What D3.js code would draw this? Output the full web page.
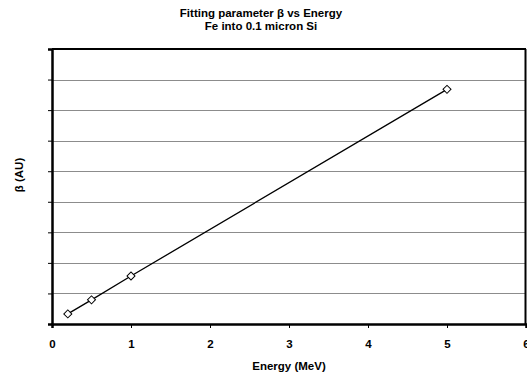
<!DOCTYPE html>
<html>
<head>
<meta charset="utf-8">
<script src="https://cdn.jsdelivr.net/npm/d3@7"></script>
<style>
  body { margin: 0; background: #fff; }
  svg text { font-family: "Liberation Sans", Arial, sans-serif !important; font-weight: 700 !important; }
</style>
</head>
<body>
<div id="chart"></div>
<script>
// datos
var energia = [0.2, 0.5, 1, 5];
var beta = [0.33, 0.79, 1.57, 7.68];
var xTicks = [0, 1, 2, 3, 4, 5, 6];
var yTicks = [0, 1, 2, 3, 4, 5, 6, 7, 8, 9];

var datos = energia.map(function(e, i) { return {x: e, y: beta[i]}; });

var W = 527, H = 377;
var margin = {top: 49, right: 1, bottom: 53, left: 52},
    width = W - margin.left - margin.right,
    height = H - margin.top - margin.bottom;

var raiz = d3.select("#chart").append("svg")
  .attr("width", W).attr("height", H);

var svg = raiz.append("g")
  .attr("transform", "translate(" + margin.left + "," + margin.top + ")");

var x = d3.scaleLinear().domain([0, 6]).range([0, width]);
var y = d3.scaleLinear().domain([0, 9]).range([height, 0]);

//grid horizontal
svg.append("g")
  .selectAll("line")
  .data(yTicks.slice(1, -1))
  .join("line")
  .attr("x1", 0).attr("x2", width)
  .attr("y1", function(d) { return Math.round(y(d)) + 0.5; })
  .attr("y2", function(d) { return Math.round(y(d)) + 0.5; })
  .attr("stroke", "#8c8c8c")
  .attr("stroke-width", 1);

//marco superior y derecho
svg.append("line")
  .attr("x1", 0).attr("x2", width).attr("y1", 0).attr("y2", 0)
  .attr("stroke", "#000").attr("stroke-width", 2);
svg.append("line")
  .attr("x1", width - 0.5).attr("x2", width - 0.5).attr("y1", 0).attr("y2", height)
  .attr("stroke", "#000").attr("stroke-width", 2);

//eje x
var ejeX = svg.append("g")
  .attr("transform", "translate(0," + height + ")")
  .call(d3.axisBottom(x).tickValues(xTicks).tickSize(4).tickPadding(12).tickFormat(d3.format("d")));
ejeX.select(".domain").attr("stroke-width", 2.5);
ejeX.selectAll(".tick line").attr("stroke-width", 1);
ejeX.selectAll("text").style("font-size", "11.5px").attr("fill", "#000");

//eje y sin etiquetas
var ejeY = svg.append("g")
  .call(d3.axisLeft(y).tickValues(yTicks).tickSize(4).tickFormat(""));
ejeY.select(".domain").attr("stroke-width", 2.5);
ejeY.selectAll(".tick line").attr("stroke-width", 1);

//linea
svg.append("path")
  .datum(datos)
  .attr("fill", "none")
  .attr("stroke", "#000")
  .attr("stroke-width", 1.3)
  .attr("d", d3.line()
    .x(function(d) { return x(d.x); })
    .y(function(d) { return y(d.y); }));

//puntos en rombo
svg.append("g")
  .selectAll("path")
  .data(datos)
  .join("path")
  .attr("transform", function(d) { return "translate(" + x(d.x) + "," + y(d.y) + ") rotate(45)"; })
  .attr("d", d3.symbol().type(d3.symbolSquare).size(32))
  .attr("fill", "#fff")
  .attr("stroke", "#000")
  .attr("stroke-width", 1);

//titulos
raiz.append("text")
  .attr("x", 261).attr("y", 17)
  .attr("text-anchor", "middle")
  .style("font-size", "11.5px")
  .text("Fitting parameter β vs Energy");
raiz.append("text")
  .attr("x", 261).attr("y", 30)
  .attr("text-anchor", "middle")
  .style("font-size", "11.5px")
  .text("Fe into 0.1 micron Si");

raiz.append("text")
  .attr("x", 289).attr("y", 370)
  .attr("text-anchor", "middle")
  .style("font-size", "11.5px")
  .text("Energy (MeV)");

raiz.append("text")
  .attr("transform", "translate(23,175) rotate(-90)")
  .attr("text-anchor", "middle")
  .style("font-size", "11.5px")
  .text("β (AU)");
</script>
</body>
</html>
